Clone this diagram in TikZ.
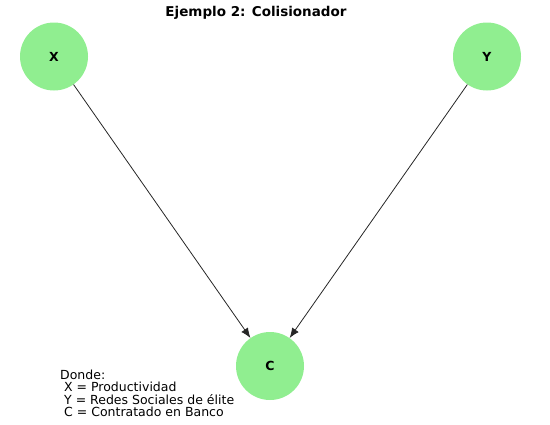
\documentclass[tikz,border=0pt]{standalone}
\usepackage{fontspec}
\setmainfont{DejaVu Sans}
\usetikzlibrary{arrows.meta}
\definecolor{verdeclaro}{HTML}{90EE90}

\begin{document}
\begin{tikzpicture}[x=1pt,y=-1pt]
   \tikzstyle{nodovar}=[circle, fill=verdeclaro, minimum size=68pt, inner sep=0pt, font=\fontsize{12.5}{14}\selectfont\bfseries]
   \tikzstyle{flecha}=[-{Latex[length=10pt,width=8pt]}, draw=black!85, line width=0.8pt]

\useasboundingbox (0,0) rectangle (550,424);

\node[font=\fontsize{13.5}{16}\selectfont\bfseries] (titulo) at (256,13) {Ejemplo 2: Colisionador};

\node[nodovar] (x) at (54,56.5) {X};
\node[nodovar] (y) at (487,56.5) {Y};
\node[nodovar] (c) at (270,366) {C};

\draw[flecha] (x) -- (c);
\draw[flecha] (y) -- (c);

\node[anchor=north west, align=left, inner sep=0pt, font=\fontsize{12.5}{12.2}\selectfont] (leyenda) at (60,370)
    {Donde:\\ \ X = Productividad\\ \ Y = Redes Sociales de élite\\ \ C = Contratado en Banco};

\end{tikzpicture}
\end{document}
